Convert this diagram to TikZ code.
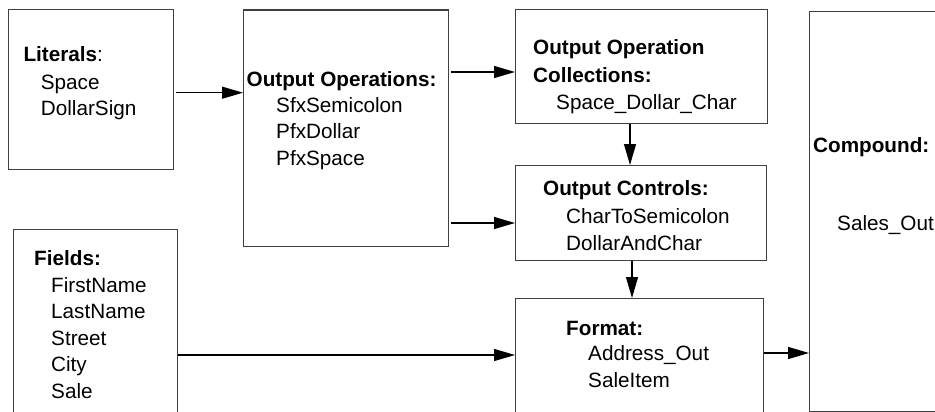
\documentclass[tikz,border=0pt]{standalone}
\usepackage{fontspec}
\setmainfont{Liberation Sans}
\usetikzlibrary{arrows.meta}
\begin{document}
\begin{tikzpicture}[x=1pt,y=-1pt,
  box/.style={draw=black!75,line width=1.3pt,rectangle,inner sep=0pt,anchor=north west},
  txt/.style={anchor=base west,inner sep=0pt,font=\fontsize{20.7}{25}\selectfont},
  hd/.style={txt,font=\fontsize{20.7}{25}\selectfont\bfseries},
  arr/.style={draw=black,line width=1.2pt,-{Triangle[length=21pt,width=12pt]}}]
\useasboundingbox (0,0) rectangle (935,412);
\clip (0,0) rectangle (935,412);
% boxes
\node[box,minimum width=164.5pt,minimum height=160.3pt] (lit) at (8,8.7) {};
\node[box,minimum width=205pt,minimum height=236.5pt] (oo) at (243,9.5) {};
\node[box,minimum width=252pt,minimum height=113.8pt] (coll) at (515,8.7) {};
\node[box,minimum width=251pt,minimum height=95pt] (ctrl) at (515,165) {};
\node[box,minimum width=248pt,minimum height=140pt] (fmt) at (515,298) {};
\node[box,minimum width=164pt,minimum height=210pt] (fld) at (13,229) {};
\node[box,minimum width=150pt,minimum height=399.5pt] (cmp) at (809,11) {};
% texts
\node[txt] (litH) at (23.3,62) {\textbf{Literals}:};
\node[txt] (lit1) at (40.7,89) {Space};
\node[txt] (lit2) at (40.7,115.5) {DollarSign};
\node[hd] (ooH) at (246.5,87) {Output Operations:};
\node[txt] (oo1) at (276,113) {SfxSemicolon};
\node[txt] (oo2) at (276,139) {PfxDollar};
\node[txt] (oo3) at (276,165) {PfxSpace};
\node[hd] (collH1) at (533,55) {Output Operation};
\node[hd] (collH2) at (533,82) {Collections:};
\node[txt] (coll1) at (556,110) {Space\_Dollar\_Char};
\node[hd] (ctrlH) at (543,195) {Output Controls:};
\node[txt] (ctrl1) at (566,223) {CharToSemicolon};
\node[txt] (ctrl2) at (566,250) {DollarAndChar};
\node[hd] (fmtH) at (566,335) {Format:};
\node[txt] (fmt1) at (588,360) {Address\_Out};
\node[txt] (fmt2) at (588,387) {SaleItem};
\node[hd] (fldH) at (34,265) {Fields:};
\node[txt] (fld1) at (51,292) {FirstName};
\node[txt] (fld2) at (51,318.5) {LastName};
\node[txt] (fld3) at (51,345) {Street};
\node[txt] (fld4) at (51,371.5) {City};
\node[txt] (fld5) at (51,398) {Sale};
\node[hd] (cmpH) at (813,152) {Compound:};
\node[txt] (cmp1) at (837,230) {Sales\_Out};
% arrow levels
\coordinate (y1) at (0,92.7);
\coordinate (y2) at (0,72);
\coordinate (y3) at (0,223);
\coordinate (y4) at (0,355);
\coordinate (y5) at (0,353);
\coordinate (x1) at (630,0);
\coordinate (x2) at (632,0);
% connectors
\draw[arr] ([xshift=2pt]lit.east |- y1) -- (oo.west |- y1);
\draw[arr] ([xshift=2pt]oo.east |- y2) -- (coll.west |- y2);
\draw[arr] ([xshift=2pt]oo.east |- y3) -- (ctrl.west |- y3);
\draw[arr] (coll.south -| x1) -- (ctrl.north -| x1);
\draw[arr] (ctrl.south -| x2) -- (fmt.north -| x2);
\draw[arr] (fld.east |- y4) -- (fmt.west |- y4);
\draw[arr] (fmt.east |- y5) -- (cmp.west |- y5);
\end{tikzpicture}
\end{document}
